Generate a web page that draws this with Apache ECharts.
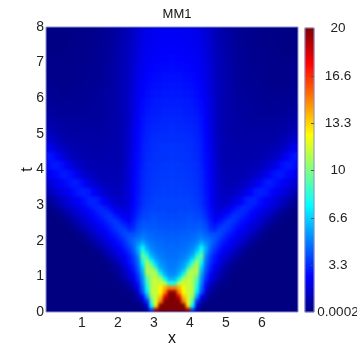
<!DOCTYPE html>
<html><head><meta charset="utf-8">
<style>
html,body{margin:0;padding:0;background:#fff}
#c{width:357px;height:352px;position:relative;isolation:isolate}
#c canvas[data-zr-dom-id="zr_-1"]{background:#000080;filter:blur(1.5px);clip-path:inset(27px 59px 40px 46px)}
#c canvas[data-zr-dom-id="zr_0"]{filter:blur(0.3px)}
</style>
<script src="https://cdn.jsdelivr.net/npm/echarts@6/dist/echarts.min.js"></script></head>
<body><div id="c"></div>
<script>
// Left half of the field (x from 0 to 3.5, 0.125 per column); the picture is mirror-symmetric about x = 3.5.
// t from 0 to 3, 0.125 per row
const rowsLow = [
[0,0,0,0,0,0,0,0,0,0,0,0,0,0,0,0,0,0,0,0,0,.1,.6,4,19,20,20,20],
[0,0,0,0,0,0,0,0,0,0,0,0,0,0,0,0,0,0,0,0,.1,.3,2,7.5,13,20,20,20],
[0,0,0,0,0,0,0,0,0,0,0,0,0,0,0,0,0,0,0,.1,.4,1.2,3.5,9,12,15,20,20],
[0,0,0,0,0,0,0,0,0,0,0,0,0,0,0,0,0,0,.1,.3,.9,2.5,5.5,10.5,11.5,13.5,18,20],
[0,0,0,0,0,0,0,0,0,0,0,0,0,0,0,0,0,.1,.2,.5,1.5,4,7,11,11.5,12.5,15,19.5],
[0,0,0,0,0,0,0,0,0,0,0,0,0,0,0,0,.1,.2,.45,1,2.2,4.5,7.8,11,11.5,12.5,14,15],
[0,0,0,0,0,0,0,0,0,0,0,0,0,0,0,.1,.2,.4,.8,1.5,2.8,5,8.5,11,11.5,11.5,11,8],
[0,0,0,0,0,0,0,0,0,0,0,0,0,0,.05,.15,.4,.85,1.4,2.1,3.3,5.3,9,11,11.3,11,7.5,6],
[0,0,0,0,0,0,0,0,0,0,0,0,0,.05,.1,.3,.6,1.1,1.7,2.5,3.7,5.7,10.5,11,11,8,6,5.3],
[0,0,0,0,0,0,0,0,0,0,0,0,.05,.1,.2,.45,.85,1.4,2.05,2.9,4.1,6.3,11,11,9.5,6.3,5.5,5],
[0,0,0,0,0,0,0,0,0,0,0,.05,.1,.15,.3,.65,1.15,1.75,2.4,3.2,4.4,7,11,10,7,5.6,5.2,4.9],
[0,0,0,0,0,0,0,0,0,0,.05,.1,.15,.3,.55,.95,1.5,2.1,2.8,3.5,4.7,8,10.5,7.5,6,5.3,5,4.8],
[0,0,0,0,0,0,0,0,0,0,0,.1,.26,.58,1,1.45,1.85,2.35,2.9,3.7,5,9.5,8.5,6.2,5.4,5,4.8,4.7],
[0,0,0,0,0,0,0,0,0,0,.1,.26,.56,.95,1.4,1.8,2.2,2.65,3.3,4.1,5.6,8.5,6.8,5.5,5,4.8,4.7,4.6],
[0,0,0,0,0,0,0,0,0,.1,.26,.55,.92,1.35,1.75,2.15,2.5,3,3.65,4.4,5.8,7.5,5.8,5.1,4.8,4.7,4.6,4.6],
[0,0,0,0,0,0,0,0,.09,.26,.54,.92,1.3,1.7,2.1,2.45,2.85,3.3,4,4.6,5.3,6,5.2,4.8,4.7,4.6,4.5,4.5],
[0,0,0,0,0,0,0,.09,.25,.54,.9,1.3,1.65,2.05,2.4,2.75,3.15,3.6,4.2,4.5,4.8,5.2,4.8,4.6,4.5,4.5,4.4,4.4],
[0,0,0,0,0,0,.09,.25,.53,.9,1.3,1.65,2,2.3,2.7,3.05,3.45,3.9,4,4.1,4.4,4.7,4.6,4.5,4.4,4.4,4.3,4.3],
[0,0,0,0,0,.09,.24,.53,.87,1.3,1.6,2,2.25,2.6,3,3.35,3.7,3.8,3.3,3.5,4.1,4.4,4.4,4.3,4.3,4.2,4.2,4.2],
[0,0,0,0,.09,.24,.52,.87,1.25,1.6,1.9,2.25,2.55,2.9,3.25,3.6,3.6,3.3,2.9,3.2,3.9,4.2,4.2,4.2,4.2,4.1,4.1,4.1],
[0,0,0,.09,.24,.51,.85,1.25,1.55,1.9,2.2,2.55,2.8,3.15,3.5,3.55,3.15,2.75,2.5,3,3.6,4,4,4.1,4.1,4,4,4],
[0,0,.09,.24,.5,.84,1.2,1.55,1.85,2.2,2.45,2.8,3.05,3.4,3.45,3.05,2.6,2.3,2.2,2.8,3.4,3.8,3.9,4,4,4,3.9,3.9],
[0,.09,.24,.5,.84,1.2,1.5,1.85,2.15,2.45,2.7,3.05,3.25,3.3,3,2.5,2.2,2,2,2.7,3.2,3.65,3.8,3.9,3.9,3.9,3.9,3.8],
[.09,.24,.5,.84,1.2,1.5,1.85,2.1,2.4,2.7,3,3.2,3.25,2.9,2.45,2.05,1.75,1.7,1.9,2.6,3.05,3.5,3.7,3.8,3.8,3.8,3.8,3.8]
];
// t from 3 to 8, 0.25 per row
const rowsHigh = [
[.36,.66,1,1.35,1.65,1.9,2.2,2.5,2.75,3.1,3.15,3.05,2.55,2.15,1.8,1.55,1.4,1.6,1.85,2.5,2.95,3.4,3.6,3.7,3.8,3.8,3.8,3.8],
[1,1.35,1.65,1.9,2.15,2.45,2.75,3,3.05,2.95,2.5,2.1,1.75,1.45,1.3,1.2,1.2,1.5,1.8,2.45,2.85,3.3,3.5,3.6,3.7,3.7,3.7,3.7],
[1.65,1.9,2.15,2.45,2.65,2.9,3,2.85,2.4,2,1.7,1.4,1.25,1.1,1.05,1.05,1.1,1.4,1.75,2.4,2.8,3.25,3.45,3.55,3.6,3.65,3.65,3.7],
[2.15,2.45,2.65,2.9,2.95,2.75,2.35,1.95,1.6,1.35,1.2,1.05,1,1,1,1,1.05,1.3,1.7,2.35,2.75,3.2,3.4,3.5,3.55,3.6,3.6,3.65],
[2.65,2.9,2.95,2.75,2.35,1.9,1.6,1.35,1.15,1.05,1,.95,.95,.95,.95,.95,1,1.25,1.65,2.3,2.7,3.1,3.35,3.45,3.5,3.55,3.6,3.6],
[2.95,2.75,2.35,1.9,1.55,1.3,1.15,1,.95,.9,.85,.85,.85,.9,.9,.9,.95,1.2,1.6,2.25,2.65,3.05,3.3,3.4,3.45,3.5,3.5,3.55],
[2.35,1.9,1.55,1.3,1.1,.95,.9,.85,.8,.8,.8,.8,.8,.85,.85,.9,.95,1.15,1.55,2.15,2.6,3,3.2,3.35,3.4,3.45,3.45,3.5],
[1.55,1.3,1.1,.95,.85,.8,.75,.75,.7,.7,.7,.7,.75,.75,.8,.85,.95,1.15,1.5,2.1,2.55,2.95,3.15,3.3,3.35,3.35,3.4,3.4],
[1.1,.95,.85,.8,.7,.65,.65,.65,.65,.65,.65,.65,.7,.7,.75,.85,.95,1.1,1.5,2.05,2.5,2.85,3.1,3.2,3.25,3.3,3.3,3.35],
[.85,.75,.7,.6,.6,.55,.55,.55,.55,.55,.6,.6,.65,.7,.75,.85,.95,1.1,1.45,1.95,2.4,2.8,3,3.1,3.15,3.2,3.25,3.25],
[.65,.55,.5,.5,.45,.45,.45,.45,.5,.5,.55,.55,.6,.65,.7,.85,.95,1.1,1.45,1.9,2.35,2.7,2.9,3,3.05,3.1,3.15,3.15],
[.5,.45,.4,.4,.4,.4,.4,.4,.45,.45,.5,.55,.6,.65,.7,.8,.95,1.1,1.4,1.85,2.25,2.6,2.8,2.9,3,3,3.05,3.05],
[.4,.35,.35,.3,.3,.3,.35,.35,.4,.4,.45,.5,.55,.6,.7,.8,.95,1.15,1.4,1.8,2.2,2.5,2.7,2.8,2.85,2.9,2.95,2.95],
[.3,.3,.25,.25,.25,.3,.3,.3,.35,.35,.4,.45,.5,.55,.65,.8,.95,1.15,1.4,1.75,2.1,2.4,2.6,2.7,2.75,2.8,2.85,2.85],
[.25,.25,.2,.2,.2,.25,.25,.3,.3,.35,.35,.4,.45,.55,.65,.8,.95,1.15,1.35,1.7,2.05,2.3,2.5,2.6,2.65,2.7,2.75,2.75],
[.2,.2,.2,.2,.2,.2,.25,.25,.3,.3,.35,.4,.45,.55,.65,.75,.95,1.1,1.35,1.65,2,2.2,2.4,2.5,2.55,2.6,2.6,2.65],
[.15,.15,.15,.15,.15,.2,.2,.25,.25,.3,.3,.35,.45,.5,.6,.75,.9,1.1,1.3,1.6,1.9,2.15,2.3,2.4,2.45,2.5,2.5,2.55],
[.1,.1,.1,.1,.15,.15,.2,.2,.25,.25,.3,.35,.4,.5,.6,.7,.9,1.05,1.25,1.55,1.85,2.05,2.25,2.3,2.4,2.4,2.45,2.45],
[.1,.1,.1,.1,.1,.15,.15,.2,.2,.25,.3,.3,.4,.45,.55,.7,.85,1,1.2,1.5,1.75,2,2.15,2.25,2.3,2.35,2.35,2.4],
[.05,.05,.1,.1,.1,.1,.15,.15,.2,.2,.25,.3,.35,.45,.55,.65,.8,1,1.15,1.45,1.7,1.9,2.1,2.2,2.25,2.3,2.3,2.3]
];
const colorTicks = [0.0002, 3.3, 6.6, 10, 13.3, 16.6, 20];
const jet = ['#000080','#0000ff','#0080ff','#00ffff','#80ff80','#ffff00','#ff8000','#ff0000','#800000'];
const vMin = 0.0002, vMax = 20;
const font = '"Liberation Sans", Arial, sans-serif';

const rows = rowsLow.slice();
rowsHigh.forEach(r => { rows.push(r); rows.push(r); });
const nCols = rows[0].length * 2;
const xCats = Array.from({length: nCols}, (_, i) => String(i));
const yCats = rows.map((_, i) => String(i));
const cells = [];
rows.forEach((r, j) => {
  r.forEach((v, k) => {
    const val = Math.max(v, vMin);
    cells.push([k, j, val]);
    cells.push([nCols - 1 - k, j, val]);
  });
});
// colour bar: one cell per level of the colour scale
const barLevels = Array.from({length: 142}, (_, i) => vMin + (vMax - vMin) * (i + 0.5) / 142);
const barCats = barLevels.map((_, i) => String(i));
const barCells = barLevels.map((v, i) => [0, i, v]);

const chart = echarts.init(document.getElementById('c'), null, {renderer: 'canvas'});
const frame = '#8f8fd0';
chart.setOption({
  animation: false,
  backgroundColor: 'transparent',
  title: {text: 'MM1', left: 172, top: 3, textAlign: 'center',
    textStyle: {fontFamily: font, fontSize: 13, fontWeight: 'normal', color: '#111'}},
  grid: [
    {left: 46, top: 27, width: 252, height: 285, show: true, borderColor: frame, borderWidth: 1, backgroundColor: 'transparent', outerBoundsMode: 'none'},
    {left: 305, top: 28, width: 9, height: 284, show: true, borderColor: frame, borderWidth: 1, backgroundColor: 'transparent', z: 5, outerBoundsMode: 'none'}
  ],
  xAxis: [
    {type: 'category', gridIndex: 0, data: xCats, show: false},
    {type: 'value', gridIndex: 0, min: 0, max: 7, interval: 1, position: 'bottom',
      axisLine: {show: false}, axisTick: {show: false}, splitLine: {show: false},
      axisLabel: {fontFamily: font, fontSize: 14, color: '#222', margin: 4,
        formatter: v => (v === 0 || v === 7) ? '' : String(v)},
      name: 'x', nameLocation: 'middle', nameGap: 19, nameMoveOverlap: false,
      nameTextStyle: {fontFamily: font, fontSize: 16, color: '#111'}},
    {type: 'category', gridIndex: 1, data: ['bar'], show: false}
  ],
  yAxis: [
    {type: 'category', gridIndex: 0, data: yCats, show: false},
    {type: 'value', gridIndex: 0, min: 0, max: 8, interval: 1, position: 'left',
      axisLine: {show: false}, axisTick: {show: false}, splitLine: {show: false},
      axisLabel: {fontFamily: font, fontSize: 14, color: '#222', margin: 2},
      name: 't', nameLocation: 'middle', nameGap: 10, nameMoveOverlap: false,
      nameTextStyle: {fontFamily: font, fontSize: 16, color: '#111'}},
    {type: 'category', gridIndex: 1, data: barCats, show: false},
    {type: 'value', gridIndex: 1, min: vMin, max: vMax, position: 'right', z: 10,
      axisLine: {show: false}, splitLine: {show: false},
      axisTick: {show: true, inside: true, length: 3, lineStyle: {color: '#555'}, customValues: colorTicks.slice(1, -1)},
      axisLabel: {fontFamily: font, fontSize: 13.5, color: '#222', align: 'center', margin: 24,
        showMinLabel: true, showMaxLabel: true,
        customValues: colorTicks, formatter: v => String(v)}}
  ],
  visualMap: {type: 'continuous', show: false, min: vMin, max: vMax, seriesIndex: [0, 1], inRange: {color: jet}},
  series: [{
    type: 'heatmap', xAxisIndex: 0, yAxisIndex: 0, data: cells, progressive: 0, zlevel: -1,
    itemStyle: {borderWidth: 0}, emphasis: {disabled: true}, silent: true
  }, {
    type: 'heatmap', xAxisIndex: 2, yAxisIndex: 2, data: barCells, progressive: 0,
    itemStyle: {borderWidth: 0}, emphasis: {disabled: true}, silent: true
  }]
});
</script></body></html>
